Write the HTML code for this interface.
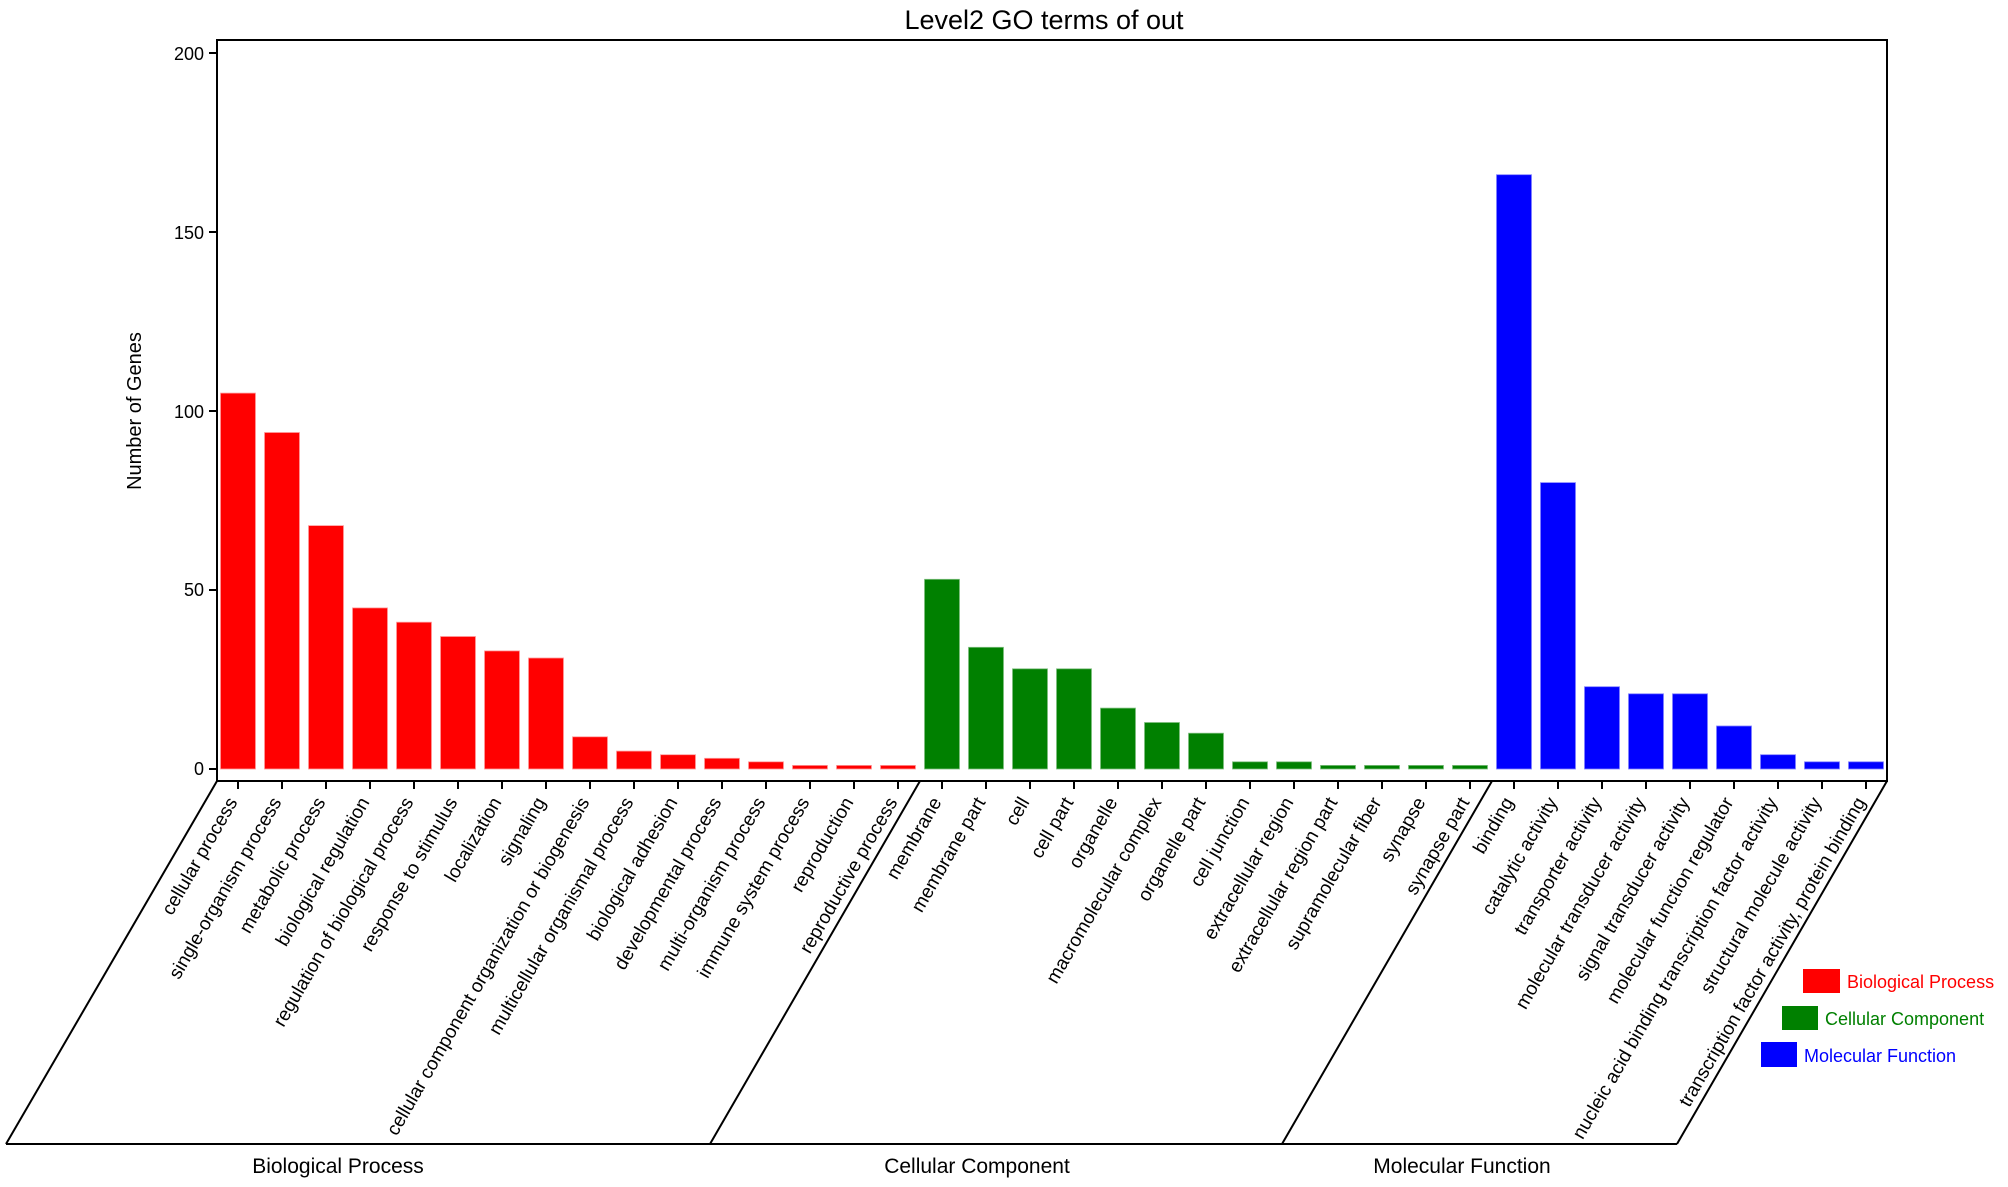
<!DOCTYPE html>
<html><head><meta charset="utf-8"><style>
html,body{margin:0;padding:0;background:#fff;}
svg{display:block;}
text{font-family:"Liberation Sans",Arial,sans-serif;}
.xl{font-size:19px;fill:#000;}
</style></head><body>
<svg width="2008" height="1187" viewBox="0 0 2008 1187" xmlns="http://www.w3.org/2000/svg">
<text x="1044" y="29" font-size="27" text-anchor="middle">Level2 GO terms of out</text>
<text transform="translate(141,411) rotate(-90)" font-size="20" text-anchor="middle">Number of Genes</text>
<g font-size="18" text-anchor="end">
<text x="204" y="775">0</text><text x="204" y="596">50</text><text x="204" y="418">100</text><text x="204" y="239">150</text><text x="204" y="60">200</text>
</g>
<g stroke="#000" stroke-width="2">
<line x1="209" y1="769" x2="217" y2="769"/><line x1="209" y1="590" x2="217" y2="590"/><line x1="209" y1="411" x2="217" y2="411"/><line x1="209" y1="232" x2="217" y2="232"/><line x1="209" y1="53" x2="217" y2="53"/>
</g>
<g fill="#ff0000" stroke="#ff9a9a" stroke-width="0.8">
<rect x="220.5" y="393.1" width="35" height="375.9"/>
<rect x="264.5" y="432.5" width="35" height="336.5"/>
<rect x="308.5" y="525.6" width="35" height="243.4"/>
<rect x="352.5" y="607.9" width="35" height="161.1"/>
<rect x="396.5" y="622.2" width="35" height="146.8"/>
<rect x="440.5" y="636.5" width="35" height="132.5"/>
<rect x="484.5" y="650.9" width="35" height="118.1"/>
<rect x="528.5" y="658" width="35" height="111"/>
<rect x="572.5" y="736.8" width="35" height="32.2"/>
<rect x="616.5" y="751.1" width="35" height="17.9"/>
<rect x="660.5" y="754.7" width="35" height="14.3"/>
<rect x="704.5" y="758.3" width="35" height="10.7"/>
<rect x="748.5" y="761.8" width="35" height="7.2"/>
<rect x="792.5" y="765.4" width="35" height="3.6"/>
<rect x="836.5" y="765.4" width="35" height="3.6"/>
<rect x="880.5" y="765.4" width="35" height="3.6"/>
</g>
<g fill="#008000" stroke="#7fbf7f" stroke-width="0.8">
<rect x="924.5" y="579.3" width="35" height="189.7"/>
<rect x="968.5" y="647.3" width="35" height="121.7"/>
<rect x="1012.5" y="668.8" width="35" height="100.2"/>
<rect x="1056.5" y="668.8" width="35" height="100.2"/>
<rect x="1100.5" y="708.1" width="35" height="60.9"/>
<rect x="1144.5" y="722.5" width="35" height="46.5"/>
<rect x="1188.5" y="733.2" width="35" height="35.8"/>
<rect x="1232.5" y="761.8" width="35" height="7.2"/>
<rect x="1276.5" y="761.8" width="35" height="7.2"/>
<rect x="1320.5" y="765.4" width="35" height="3.6"/>
<rect x="1364.5" y="765.4" width="35" height="3.6"/>
<rect x="1408.5" y="765.4" width="35" height="3.6"/>
<rect x="1452.5" y="765.4" width="35" height="3.6"/>
</g>
<g fill="#0000ff" stroke="#8080ff" stroke-width="0.8">
<rect x="1496.5" y="174.7" width="35" height="594.3"/>
<rect x="1540.5" y="482.6" width="35" height="286.4"/>
<rect x="1584.5" y="686.7" width="35" height="82.3"/>
<rect x="1628.5" y="693.8" width="35" height="75.2"/>
<rect x="1672.5" y="693.8" width="35" height="75.2"/>
<rect x="1716.5" y="726" width="35" height="43"/>
<rect x="1760.5" y="754.7" width="35" height="14.3"/>
<rect x="1804.5" y="761.8" width="35" height="7.2"/>
<rect x="1848.5" y="761.8" width="35" height="7.2"/>
</g>
<rect x="217" y="40" width="1670" height="741" fill="none" stroke="#000" stroke-width="2"/>
<g stroke="#000" stroke-width="2" fill="none">
<line x1="217" y1="781" x2="6" y2="1144"/>
<line x1="920" y1="781" x2="710" y2="1144"/>
<line x1="1492" y1="781" x2="1282" y2="1144"/>
<line x1="1887" y1="781" x2="1677" y2="1144"/>
<line x1="6" y1="1144" x2="1677" y2="1144"/>
</g>
<g stroke="#000" stroke-width="2">
<line x1="238" y1="781" x2="238" y2="789"/><line x1="282" y1="781" x2="282" y2="789"/><line x1="326" y1="781" x2="326" y2="789"/><line x1="370" y1="781" x2="370" y2="789"/><line x1="414" y1="781" x2="414" y2="789"/><line x1="458" y1="781" x2="458" y2="789"/><line x1="502" y1="781" x2="502" y2="789"/><line x1="546" y1="781" x2="546" y2="789"/><line x1="590" y1="781" x2="590" y2="789"/><line x1="634" y1="781" x2="634" y2="789"/><line x1="678" y1="781" x2="678" y2="789"/><line x1="722" y1="781" x2="722" y2="789"/><line x1="766" y1="781" x2="766" y2="789"/><line x1="810" y1="781" x2="810" y2="789"/><line x1="854" y1="781" x2="854" y2="789"/><line x1="898" y1="781" x2="898" y2="789"/><line x1="942" y1="781" x2="942" y2="789"/><line x1="986" y1="781" x2="986" y2="789"/><line x1="1030" y1="781" x2="1030" y2="789"/><line x1="1074" y1="781" x2="1074" y2="789"/><line x1="1118" y1="781" x2="1118" y2="789"/><line x1="1162" y1="781" x2="1162" y2="789"/><line x1="1206" y1="781" x2="1206" y2="789"/><line x1="1250" y1="781" x2="1250" y2="789"/><line x1="1294" y1="781" x2="1294" y2="789"/><line x1="1338" y1="781" x2="1338" y2="789"/><line x1="1382" y1="781" x2="1382" y2="789"/><line x1="1426" y1="781" x2="1426" y2="789"/><line x1="1470" y1="781" x2="1470" y2="789"/><line x1="1514" y1="781" x2="1514" y2="789"/><line x1="1558" y1="781" x2="1558" y2="789"/><line x1="1602" y1="781" x2="1602" y2="789"/><line x1="1646" y1="781" x2="1646" y2="789"/><line x1="1690" y1="781" x2="1690" y2="789"/><line x1="1734" y1="781" x2="1734" y2="789"/><line x1="1778" y1="781" x2="1778" y2="789"/><line x1="1822" y1="781" x2="1822" y2="789"/><line x1="1866" y1="781" x2="1866" y2="789"/>
</g>
<g class="xl" text-anchor="end">
<text class="xl" transform="translate(238,802) rotate(-60)">cellular process</text>
<text class="xl" transform="translate(282,802) rotate(-60)">single-organism process</text>
<text class="xl" transform="translate(326,802) rotate(-60)">metabolic process</text>
<text class="xl" transform="translate(370,802) rotate(-60)">biological regulation</text>
<text class="xl" transform="translate(414,802) rotate(-60)">regulation of biological process</text>
<text class="xl" transform="translate(458,802) rotate(-60)">response to stimulus</text>
<text class="xl" transform="translate(502,802) rotate(-60)">localization</text>
<text class="xl" transform="translate(546,802) rotate(-60)">signaling</text>
<text class="xl" transform="translate(590,802) rotate(-60)">cellular component organization or biogenesis</text>
<text class="xl" transform="translate(634,802) rotate(-60)">multicellular organismal process</text>
<text class="xl" transform="translate(678,802) rotate(-60)">biological adhesion</text>
<text class="xl" transform="translate(722,802) rotate(-60)">developmental process</text>
<text class="xl" transform="translate(766,802) rotate(-60)">multi-organism process</text>
<text class="xl" transform="translate(810,802) rotate(-60)">immune system process</text>
<text class="xl" transform="translate(854,802) rotate(-60)">reproduction</text>
<text class="xl" transform="translate(898,802) rotate(-60)">reproductive process</text>
<text class="xl" transform="translate(942,802) rotate(-60)">membrane</text>
<text class="xl" transform="translate(986,802) rotate(-60)">membrane part</text>
<text class="xl" transform="translate(1030,802) rotate(-60)">cell</text>
<text class="xl" transform="translate(1074,802) rotate(-60)">cell part</text>
<text class="xl" transform="translate(1118,802) rotate(-60)">organelle</text>
<text class="xl" transform="translate(1162,802) rotate(-60)">macromolecular complex</text>
<text class="xl" transform="translate(1206,802) rotate(-60)">organelle part</text>
<text class="xl" transform="translate(1250,802) rotate(-60)">cell junction</text>
<text class="xl" transform="translate(1294,802) rotate(-60)">extracellular region</text>
<text class="xl" transform="translate(1338,802) rotate(-60)">extracellular region part</text>
<text class="xl" transform="translate(1382,802) rotate(-60)">supramolecular fiber</text>
<text class="xl" transform="translate(1426,802) rotate(-60)">synapse</text>
<text class="xl" transform="translate(1470,802) rotate(-60)">synapse part</text>
<text class="xl" transform="translate(1514,802) rotate(-60)">binding</text>
<text class="xl" transform="translate(1558,802) rotate(-60)">catalytic activity</text>
<text class="xl" transform="translate(1602,802) rotate(-60)">transporter activity</text>
<text class="xl" transform="translate(1646,802) rotate(-60)">molecular transducer activity</text>
<text class="xl" transform="translate(1690,802) rotate(-60)">signal transducer activity</text>
<text class="xl" transform="translate(1734,802) rotate(-60)">molecular function regulator</text>
<text class="xl" transform="translate(1778,802) rotate(-60)">nucleic acid binding transcription factor activity</text>
<text class="xl" transform="translate(1822,802) rotate(-60)">structural molecule activity</text>
<text class="xl" transform="translate(1866,802) rotate(-60)">transcription factor activity, protein binding</text>
</g>
<g font-size="21" text-anchor="middle">
<text x="338" y="1173">Biological Process</text>
<text x="977" y="1173">Cellular Component</text>
<text x="1462" y="1173">Molecular Function</text>
</g>
<rect x="1803" y="969" width="37" height="24" fill="#ff0000"/>
<text x="1847" y="988" font-size="18" fill="#ff0000">Biological Process</text>
<rect x="1782" y="1006" width="36" height="24" fill="#008000"/>
<text x="1825" y="1025" font-size="18" fill="#008000">Cellular Component</text>
<rect x="1761" y="1042" width="36" height="25" fill="#0000ff"/>
<text x="1804" y="1062" font-size="18" fill="#0000ff">Molecular Function</text>
</svg>
</body></html>
